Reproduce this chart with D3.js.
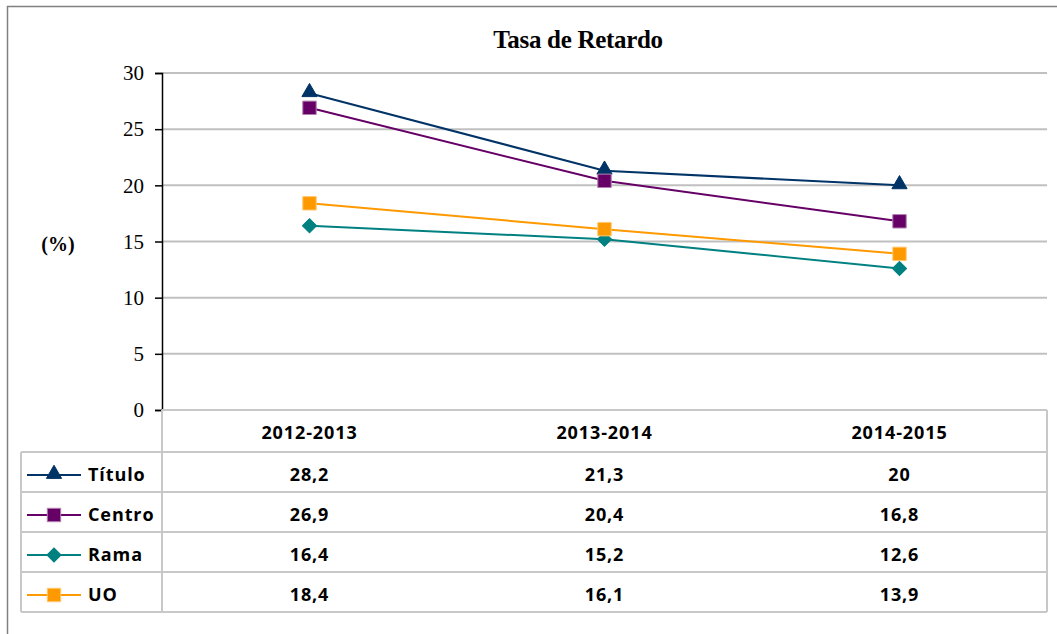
<!DOCTYPE html>
<html>
<head>
<meta charset="utf-8">
<script src="https://cdn.jsdelivr.net/npm/d3@7/dist/d3.min.js"></script>
<style>
  html, body { margin: 0; padding: 0; background: #fff; }
  svg { display: block; }
</style>
</head>
<body>
<script>
// Tasa de Retardo por curso académico (%)
const categories = ["2012-2013", "2013-2014", "2014-2015"];
const seriesNames = ["Título", "Centro", "Rama", "UO"];
const titulo = [28.2, 21.3, 20];
const centro = [26.9, 20.4, 16.8];
const rama = [16.4, 15.2, 12.6];
const uo = [18.4, 16.1, 13.9];
const yTicks = [0, 5, 10, 15, 20, 25, 30];

const seriesValues = [titulo, centro, rama, uo];
const seriesColors = ["#003366", "#660066", "#008080", "#ff9900"];
const seriesMarkers = ["triangle", "square", "diamond", "square"];
const markerStroke = ["#003366", "#b080b0", "#008080", "#ffc870"];

const W = 1057, H = 634;
const plot = { left: 162, right: 1047, top: 73, bottom: 410 };
const table = { left: 21, headerBottom: 452, rowH: 40 };

const svg = d3.select("body").append("svg").attr("width", W).attr("height", H);

// outer chart frame
svg.append("rect")
  .attr("x", 7.5).attr("y", 6.5).attr("width", W + 10).attr("height", H + 10)
  .attr("fill", "none").attr("stroke", "#808080").attr("stroke-width", 1.5);

const x = d3.scaleBand().domain(categories).range([plot.left, plot.right]);
const y = d3.scaleLinear().domain([0, 30]).range([plot.bottom, plot.top]);

// title
svg.append("text")
  .attr("x", 578).attr("y", 48)
  .attr("text-anchor", "middle")
  .attr("font-family", "Liberation Serif, Times New Roman, serif")
  .attr("font-weight", "bold").attr("font-size", 25)
  .attr("letter-spacing", -0.3)
  .text("Tasa de Retardo");

// gridlines
svg.append("g").selectAll("line")
  .data(yTicks.filter(t => t > 0))
  .join("line")
  .attr("x1", plot.left).attr("x2", plot.right)
  .attr("y1", d => y(d)).attr("y2", d => y(d))
  .attr("stroke", "#c0c0c0").attr("stroke-width", 2);

// y axis
const yAxis = d3.axisLeft(y).tickValues(yTicks).tickSize(7).tickPadding(11).tickFormat(d3.format("d"));
const gy = svg.append("g").attr("transform", `translate(${plot.left},0)`).call(yAxis);
gy.select(".domain").attr("stroke", "#000").attr("stroke-width", 1.5);
gy.selectAll(".tick line").attr("stroke", "#000").attr("stroke-width", 1.5);
gy.selectAll(".tick text")
  .attr("font-family", "Liberation Serif, Times New Roman, serif")
  .attr("font-size", 21).attr("fill", "#000");

// y axis unit label
svg.append("text")
  .attr("x", 58).attr("y", 244)
  .attr("text-anchor", "middle").attr("dominant-baseline", "central")
  .attr("font-family", "Liberation Serif, Times New Roman, serif")
  .attr("font-weight", "bold").attr("font-size", 20)
  .text("(%)");

// data table grid
const gridColor = "#c8c8c8";
const tableBottom = table.headerBottom + seriesNames.length * table.rowH;
const tg = svg.append("g").attr("stroke", gridColor).attr("stroke-width", 2).attr("fill", "none");
tg.append("line").attr("x1", plot.left).attr("x2", plot.right).attr("y1", plot.bottom).attr("y2", plot.bottom);
d3.range(seriesNames.length + 1).forEach(i => {
  const yy = table.headerBottom + i * table.rowH;
  tg.append("line").attr("x1", table.left).attr("x2", plot.right).attr("y1", yy).attr("y2", yy);
});
tg.append("line").attr("x1", table.left).attr("x2", table.left).attr("y1", table.headerBottom).attr("y2", tableBottom);
tg.append("line").attr("x1", plot.left).attr("x2", plot.left).attr("y1", plot.bottom).attr("y2", tableBottom);
tg.append("line").attr("x1", plot.right).attr("x2", plot.right).attr("y1", plot.bottom).attr("y2", tableBottom);

const tableFont = "Open Sans, Lato, sans-serif";
function cellText(g, tx, ty, txt, anchor) {
  return g.append("text")
    .attr("x", tx).attr("y", ty)
    .attr("text-anchor", anchor || "middle")
    .attr("font-family", tableFont).attr("font-weight", "bold")
    .attr("font-size", 18).attr("letter-spacing", 0.9).attr("fill", "#000")
    .text(txt);
}

// header row: categories
const tt = svg.append("g");
categories.forEach(c => {
  cellText(tt, x(c) + x.bandwidth() / 2, 439, c);
});

// marker symbol generator
function markerPath(kind) {
  if (kind === "triangle") return d3.symbol(d3.symbolTriangle, 100)();
  if (kind === "diamond") return d3.symbol(d3.symbolSquare, 100)();
  return d3.symbol(d3.symbolSquare, 180)();
}
function markerRotate(kind) {
  return kind === "diamond" ? " rotate(45)" : "";
}

// rows: legend key + values
seriesNames.forEach((name, i) => {
  const cy = table.headerBottom + i * table.rowH + 23;
  svg.append("line")
    .attr("x1", 27).attr("x2", 81).attr("y1", cy).attr("y2", cy)
    .attr("stroke", seriesColors[i]).attr("stroke-width", 2);
  svg.append("path")
    .attr("d", markerPath(seriesMarkers[i]))
    .attr("transform", `translate(54,${seriesMarkers[i] === "triangle" ? cy - 1 : cy})${markerRotate(seriesMarkers[i])}`)
    .attr("fill", seriesColors[i]).attr("stroke", markerStroke[i]).attr("stroke-width", 1);
  cellText(tt, 88, cy + 6, name, "start");
  seriesValues[i].forEach((v, j) => {
    cellText(tt, x(categories[j]) + x.bandwidth() / 2, cy + 6, String(v).replace(".", ","));
  });
});

// series lines and markers
const line = d3.line()
  .x((d, j) => x(categories[j]) + x.bandwidth() / 2)
  .y(d => y(d));

seriesNames.forEach((name, i) => {
  const g = svg.append("g");
  g.append("path")
    .attr("d", line(seriesValues[i]))
    .attr("fill", "none").attr("stroke", seriesColors[i]).attr("stroke-width", 2);
  g.selectAll("path.m")
    .data(seriesValues[i])
    .join("path")
    .attr("class", "m")
    .attr("d", markerPath(seriesMarkers[i]))
    .attr("transform", (d, j) => `translate(${x(categories[j]) + x.bandwidth() / 2},${y(d) - (seriesMarkers[i] === "triangle" ? 1 : 0)})${markerRotate(seriesMarkers[i])}`)
    .attr("fill", seriesColors[i]).attr("stroke", markerStroke[i]).attr("stroke-width", 1);
});
</script>
</body>
</html>
